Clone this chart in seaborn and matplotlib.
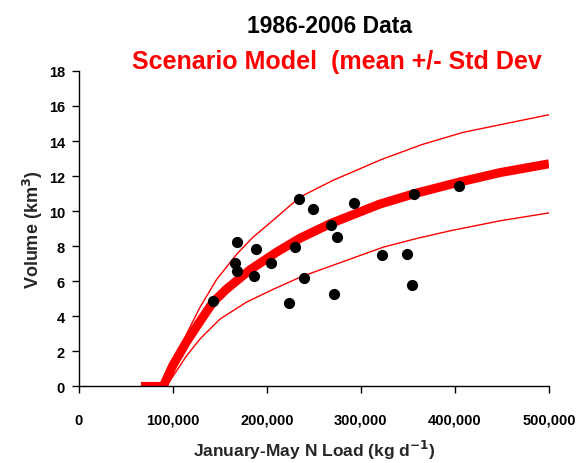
import numpy as np
import pandas as pd
import matplotlib
matplotlib.use('Agg')
import matplotlib.pyplot as plt
import seaborn as sns
from matplotlib.ticker import FuncFormatter

# 觀測資料 (1986-2006)
n_load = [142.6, 168.4, 165.6, 168.4, 188.6, 185.8, 204.3, 223.0, 229.4, 234.0, 239.0,
          248.6, 268.0, 274.8, 271.7, 292.6, 322.7, 348.6, 353.9, 356.7, 404.3]
volume = [4.87, 8.22, 7.05, 6.58, 7.82, 6.28, 7.02, 4.75, 7.97, 10.67, 6.20,
          10.12, 9.22, 8.50, 5.27, 10.48, 7.48, 7.57, 5.80, 11.00, 11.42]

# 模型曲線 (讀圖估計, 千 kg/d)
mean_x = [66, 89.7, 100, 114.6, 128.7, 142.6, 157, 182, 210, 235, 268, 320, 357, 404, 448, 500]
mean_y = [0, 0, 1.2, 2.55, 3.7, 4.8, 5.55, 6.65, 7.65, 8.45, 9.3, 10.4, 11.0, 11.65, 12.2, 12.7]
upper_x = [90, 100, 114.6, 128.7, 146.5, 168, 185, 207, 235, 270, 322, 365, 409, 500]
upper_y = [0, 1.4, 3.0, 4.5, 6.1, 7.55, 8.5, 9.5, 10.8, 11.75, 12.95, 13.8, 14.5, 15.5]
lower_x = [93, 114.6, 128.7, 150, 178, 207, 237, 280, 324, 360, 395, 448, 500]
lower_y = [0, 1.75, 2.7, 3.84, 4.8, 5.55, 6.27, 7.1, 7.95, 8.45, 8.88, 9.45, 9.9]

obs = pd.DataFrame({'load': np.array(n_load) * 1000, 'vol': volume})
mean_df = pd.DataFrame({'load': np.array(mean_x) * 1000, 'vol': mean_y})
upper_df = pd.DataFrame({'load': np.array(upper_x) * 1000, 'vol': upper_y})
lower_df = pd.DataFrame({'load': np.array(lower_x) * 1000, 'vol': lower_y})

sns.set_theme(style='ticks')
plt.rcParams['font.family'] = ['Liberation Sans', 'DejaVu Sans']

fig = plt.figure(figsize=(5.84, 4.64), dpi=100)
ax = fig.add_axes([0.135, 0.165, 0.805, 0.68])

sns.lineplot(data=upper_df, x='load', y='vol', color='#ff0000', linewidth=1.0, ax=ax)
sns.lineplot(data=lower_df, x='load', y='vol', color='#ff0000', linewidth=1.0, ax=ax)
sns.lineplot(data=mean_df, x='load', y='vol', color='#ff0000', linewidth=6.5, ax=ax,
             solid_capstyle='butt', solid_joinstyle='round')
sns.scatterplot(data=obs, x='load', y='vol', color='black', s=65, marker='o',
                edgecolor='black', linewidth=0, ax=ax, zorder=5)

ax.set_xlim(0, 500000)
ax.set_ylim(0, 18)
ax.set_xticks(range(0, 500001, 100000))
ax.set_yticks(range(0, 19, 2))
ax.xaxis.set_major_formatter(FuncFormatter(lambda v, p: f'{int(v):,}'))
sns.despine(ax=ax)
for s in ['left', 'bottom']:
    ax.spines[s].set_color('black')
    ax.spines[s].set_linewidth(1.0)
ax.tick_params(axis='both', direction='out', length=5, width=1, colors='black',
               labelsize=10.5)
for lab in ax.get_xticklabels() + ax.get_yticklabels():
    lab.set_fontweight('bold')
ax.tick_params(axis='x', pad=14)
ax.tick_params(axis='y', pad=5)

ax.set_xlabel('January-May N Load (kg d$^{\\mathbf{-1}}$)', fontsize=12.5, fontweight='bold', labelpad=8)
ax.set_ylabel('Volume (km$^{\\mathbf{3}}$)', fontsize=13, fontweight='bold', labelpad=3)

fig.text(0.565, 0.942, '1986-2006 Data', ha='center', va='center', fontsize=16.5,
         fontweight='bold', color='black')
fig.text(0.576, 0.866, 'Scenario Model  (mean +/- Std Dev', ha='center', va='center',
         fontsize=18, fontweight='bold', color='#ff0000')

fig.savefig('out.png', dpi=100)
